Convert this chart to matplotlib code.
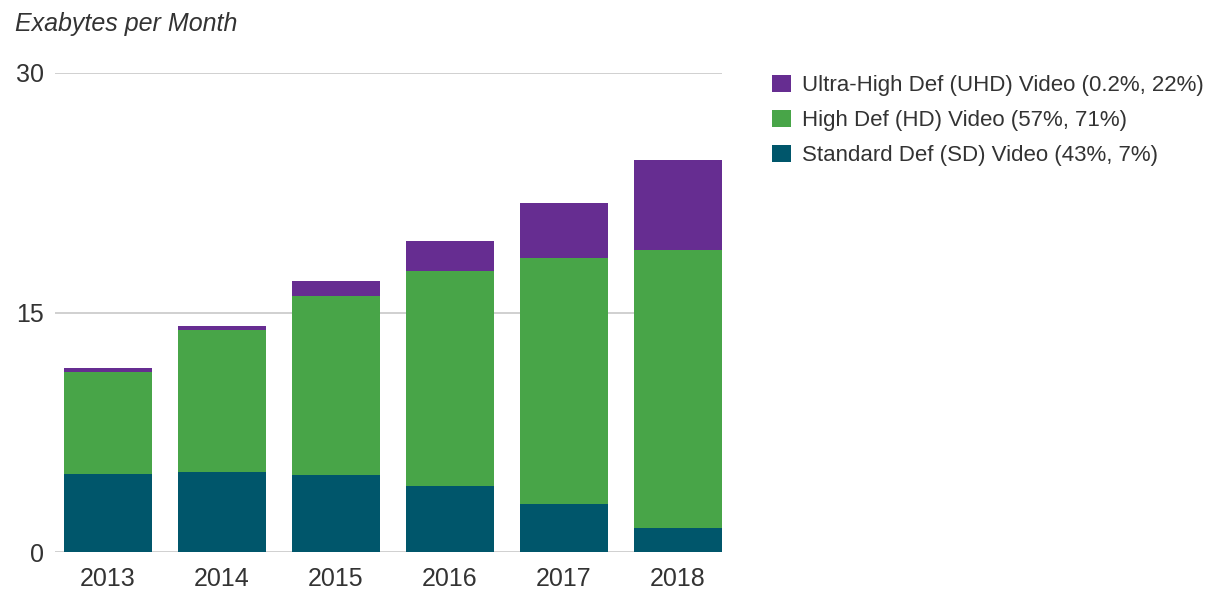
import numpy as np
import matplotlib.pyplot as plt

plt.rcParams['font.family'] = ['Liberation Sans', 'DejaVu Sans']

# data (exabytes per month)
years = ['2013', '2014', '2015', '2016', '2017', '2018']
sd = [4.9, 5.0, 4.8, 4.15, 3.0, 1.5]
hd = [6.4, 8.9, 11.25, 13.45, 15.4, 17.4]
uhd = [0.2, 0.25, 0.9, 1.9, 3.45, 5.65]

labels = ['Standard Def (SD) Video (43%, 7%)',
          'High Def (HD) Video (57%, 71%)',
          'Ultra-High Def (UHD) Video (0.2%, 22%)']
colors = ['#00566b', '#48a548', '#662d91']

yticks = [0, 15, 30]
text_col = '#333333'

fig = plt.figure(figsize=(12.14, 5.92), dpi=100)
ax = fig.add_axes([55 / 1214, 1 - 552 / 592, (722 - 55) / 1214, (552 - 73) / 592])

x = np.arange(len(years))
w = 0.771
sd_arr = np.array(sd)
hd_arr = np.array(hd)
uhd_arr = np.array(uhd)

b1 = ax.bar(x, sd_arr, w, color=colors[0], label=labels[0], zorder=3)
b2 = ax.bar(x, hd_arr, w, bottom=sd_arr, color=colors[1], label=labels[1], zorder=3)
b3 = ax.bar(x, uhd_arr, w, bottom=sd_arr + hd_arr, color=colors[2], label=labels[2], zorder=3)

ax.set_xlim(-0.465, 5.3855)
ax.set_ylim(0, 30)
ax.set_xticks(x)
ax.set_xticklabels(years)
ax.set_yticks(yticks)
ax.tick_params(axis='both', length=0, labelsize=18, labelcolor=text_col)
ax.tick_params(axis='x', pad=11)
ax.tick_params(axis='y', pad=8)
ax.yaxis.grid(True, color='#c8c8c8', linewidth=1.2, zorder=0)
ax.set_axisbelow(True)
for s in ax.spines.values():
    s.set_visible(False)

fig.text(15 / 1214, 1 - 24 / 592, 'Exabytes per Month', fontsize=18,
         style='italic', color=text_col, va='center', ha='left')

fig.legend([b3, b2, b1], [labels[2], labels[1], labels[0]],
           loc='upper left', bbox_to_anchor=(772 / 1214, 1 - 75 / 592),
           frameon=False, fontsize=16, borderpad=0, borderaxespad=0,
           handlelength=0.86, handleheight=0.81, handletextpad=0.5,
           labelspacing=0.62, labelcolor=text_col)

fig.savefig('out.png', dpi=100)
